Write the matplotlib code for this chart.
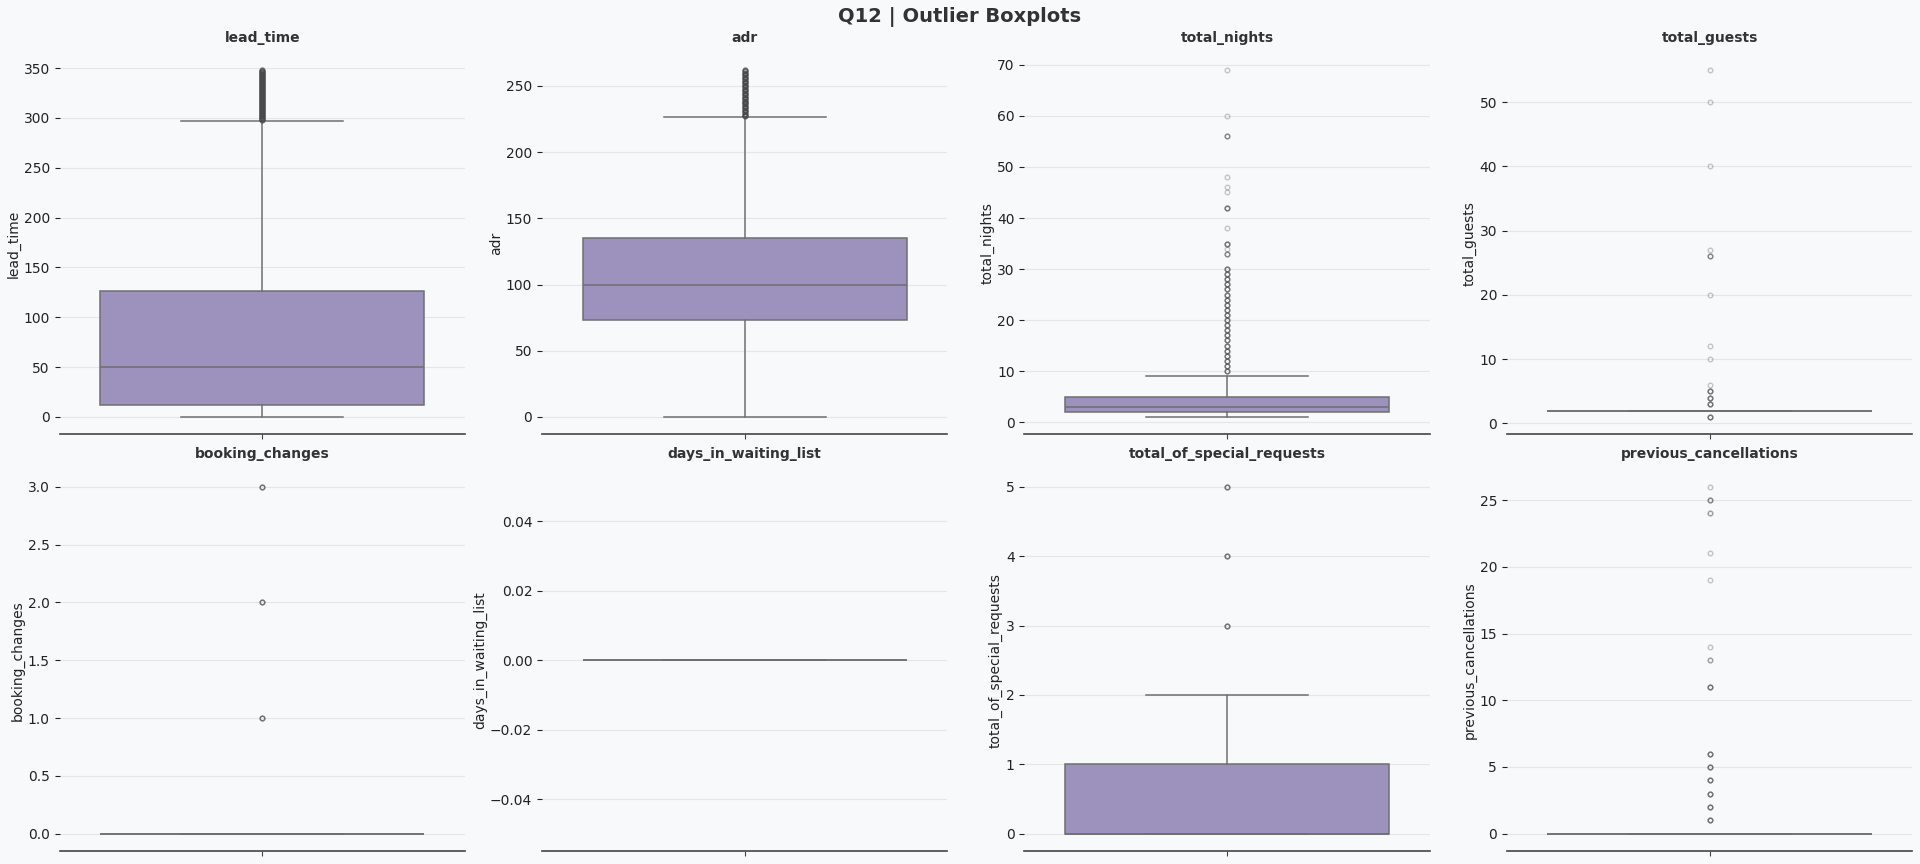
import matplotlib
matplotlib.use("Agg")
import matplotlib.pyplot as plt
import numpy as np

# columns shown, in panel order
columns = ["lead_time", "adr", "total_nights", "total_guests",
           "booking_changes", "days_in_waiting_list",
           "total_of_special_requests", "previous_cancellations"]

# box statistics
q1 = [12, 73, 2, 2, 0, 0, 0, 0]
median = [50, 100, 3, 2, 0, 0, 0, 0]
q3 = [126, 135, 5, 2, 0, 0, 1, 0]
whisker_lo = [0, 0, 1, 2, 0, 0, 0, 0]
whisker_hi = [297, 226.5, 9, 2, 0, 0, 2, 0]

# outliers: distinct values and how many records sit on each (darkness)
lead_out = [298, 299, 300, 301, 302, 303, 304, 305, 306, 307, 308, 309, 310,
            311, 312, 313, 314, 315, 316, 317, 318, 319, 320, 321, 322, 323,
            324, 325, 326, 327, 328, 329, 330, 331, 332, 333, 334, 335, 336,
            337, 338, 339, 340, 341, 342, 343, 344, 345, 346, 347, 348]
lead_cnt = [4] * len(lead_out)
adr_out = [227, 228, 229, 230, 231, 232, 233, 234, 235, 236, 237, 238, 239,
           240, 241, 242, 243, 244, 245, 246, 247, 248, 249, 250, 251, 252,
           253, 254, 255, 256, 257, 258, 259, 260, 261, 262]
adr_cnt = [4] * len(adr_out)
nights_out = [10, 11, 12, 13, 14, 15, 16, 17, 18, 19, 20, 21, 22, 23, 24, 25,
              26, 27, 28, 29, 30, 33, 34, 35, 38, 42, 45, 46, 48, 56, 60, 69]
nights_cnt = [4] * 21 + [3, 1, 4, 1, 4, 1, 1, 1, 3, 1, 1]
guests_out = [1, 3, 4, 5, 6, 10, 12, 20, 26, 27, 40, 50, 55]
guests_cnt = [4, 4, 4, 4, 1, 1, 1, 1, 3, 1, 1, 1, 1]
changes_out = [1, 2, 3]
changes_cnt = [4, 4, 4]
waiting_out = []
waiting_cnt = []
requests_out = [3, 4, 5]
requests_cnt = [4, 4, 4]
prevcanc_out = [1, 2, 3, 4, 5, 6, 11, 13, 14, 19, 21, 24, 25, 26]
prevcanc_cnt = [4, 4, 4, 4, 4, 4, 4, 2, 1, 1, 1, 2, 3, 1]

outliers = [(lead_out, lead_cnt), (adr_out, adr_cnt), (nights_out, nights_cnt),
            (guests_out, guests_cnt), (changes_out, changes_cnt),
            (waiting_out, waiting_cnt), (requests_out, requests_cnt),
            (prevcanc_out, prevcanc_cnt)]

BG = "#f8f9fb"
BOX = "#9d91bd"
LINE = "#6f6f6f"
TXT = "#222222"

plt.rcParams["font.family"] = ["DejaVu Sans"]

fig, axes = plt.subplots(2, 4, figsize=(19.2, 8.64), dpi=100)
fig.patch.set_facecolor(BG)
fig.subplots_adjust(left=0.031, right=0.996, top=0.939, bottom=0.015,
                    wspace=0.19, hspace=0.092)
fig.suptitle("Q12 | Outlier Boxplots", fontsize=14, fontweight="bold",
             color="#333333", y=0.992)

for i, (ax, col) in enumerate(zip(axes.flat, columns)):
    vals, cnts = outliers[i]
    fl = np.repeat(np.array(vals, dtype=float), cnts) if vals else np.array([])
    stats = [{"q1": q1[i], "med": median[i], "q3": q3[i],
              "whislo": whisker_lo[i], "whishi": whisker_hi[i],
              "fliers": fl}]
    ax.set_facecolor(BG)
    ax.bxp(stats, positions=[0], widths=0.8, capwidths=0.4,
           patch_artist=True, manage_ticks=False,
           boxprops=dict(facecolor=BOX, edgecolor=LINE, linewidth=1.1),
           medianprops=dict(color=LINE, linewidth=1.1),
           whiskerprops=dict(color=LINE, linewidth=1.1),
           capprops=dict(color=LINE, linewidth=1.1),
           flierprops=dict(marker="o", markersize=3.3, markerfacecolor="none",
                           markeredgecolor="#4a4a4a", markeredgewidth=1.0,
                           alpha=0.3, linestyle="none"))
    ax.set_xlim(-0.5, 0.5)
    ax.set_xticks([0])
    ax.set_xticklabels([""])
    ax.set_title(col, fontsize=10, fontweight="bold", color="#333333", pad=8)
    ax.set_ylabel(col, fontsize=10, color=TXT, labelpad=2)
    ax.grid(axis="y", color="#e4e6ea", linewidth=0.8)
    ax.set_axisbelow(True)
    for s in ("left", "right", "top"):
        ax.spines[s].set_visible(False)
    ax.spines["bottom"].set_color("#444444")
    ax.spines["bottom"].set_linewidth(1.2)
    ax.tick_params(axis="y", labelsize=10, labelcolor=TXT, color=TXT,
                   length=3.5, width=0.8)
    ax.tick_params(axis="x", color="#444444", length=3.5, width=0.8)

fig.savefig("out.png", dpi=100, facecolor=BG)
